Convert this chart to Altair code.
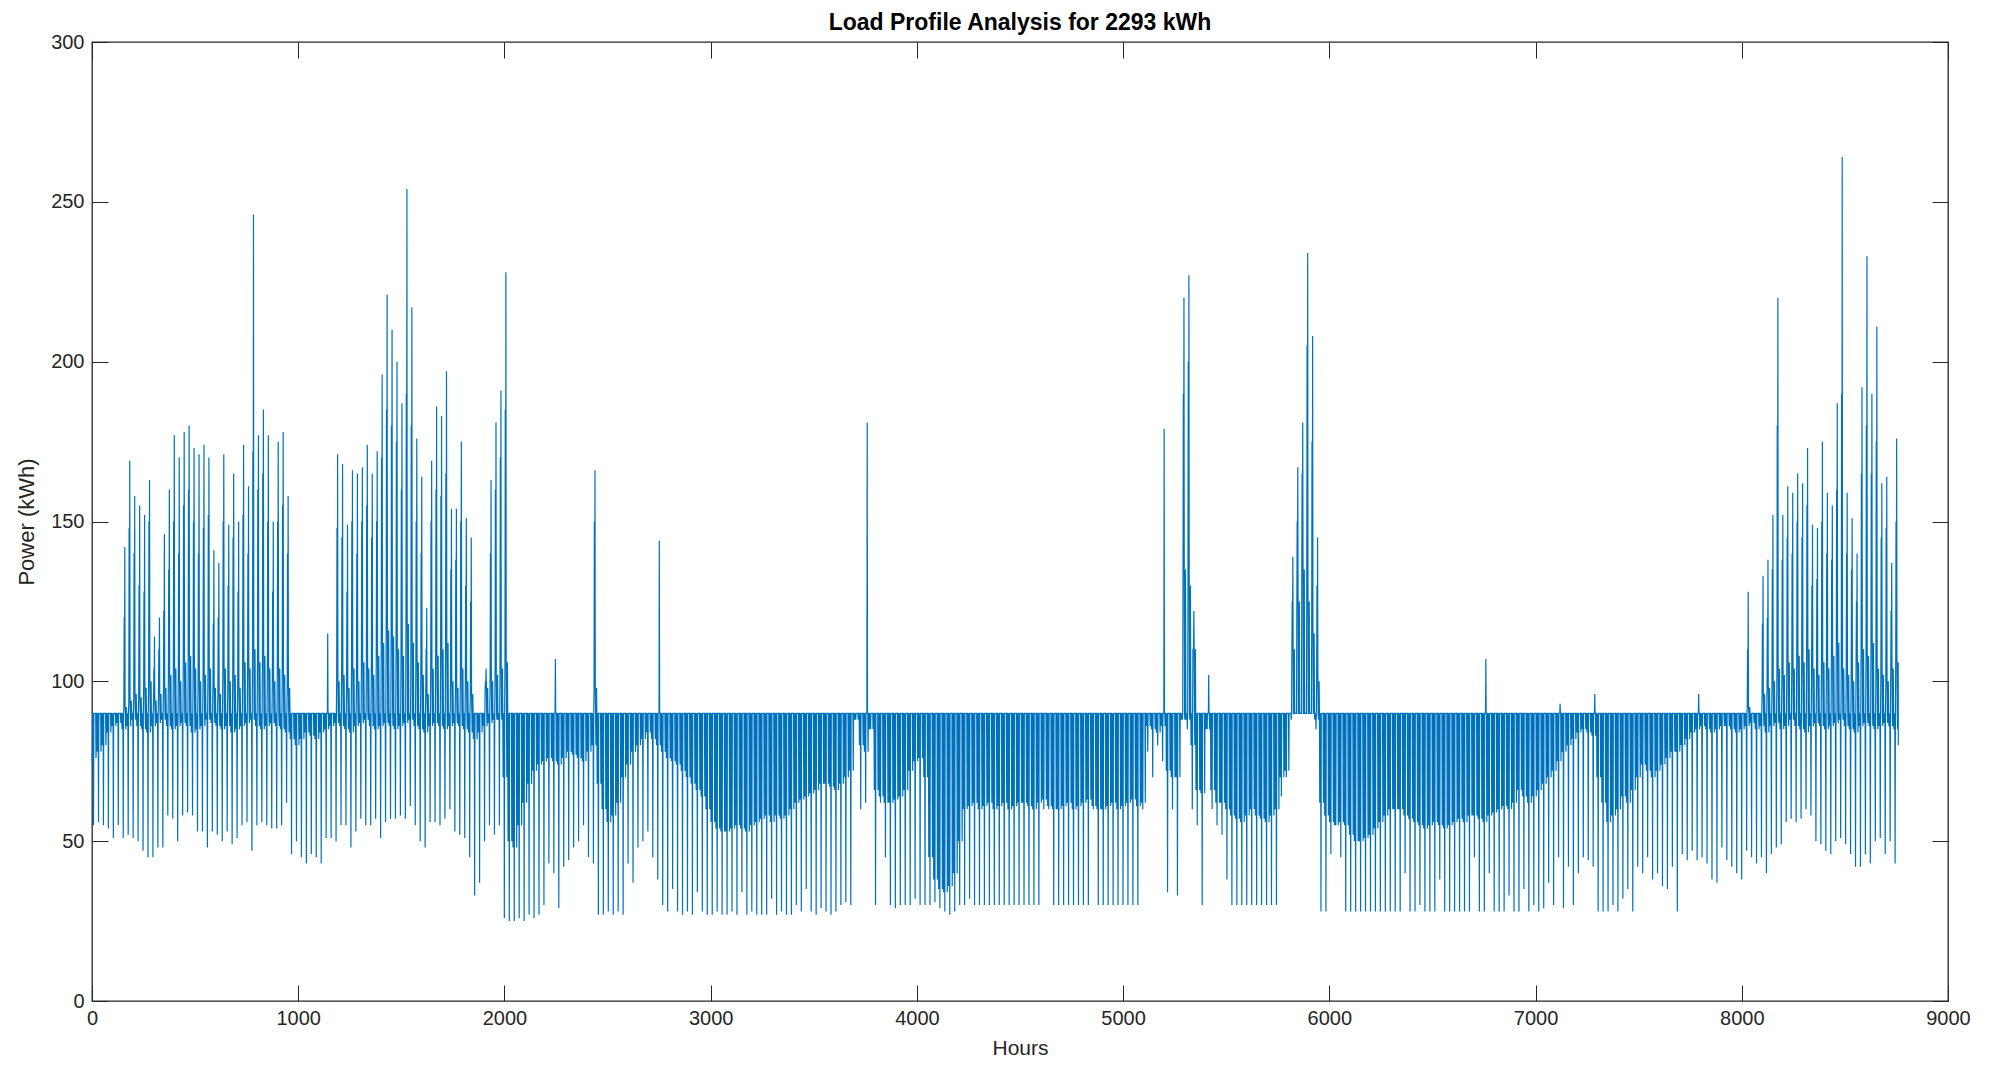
import altair as alt
import pandas as pd

# ---------------- values ----------------
TITLE = "Load Profile Analysis for 2293 kWh"
X_TITLE = "Hours"
Y_TITLE = "Power (kWh)"
X_TICKS = [0, 1000, 2000, 3000, 4000, 5000, 6000, 7000, 8000, 9000]
Y_TICKS = [0, 50, 100, 150, 200, 250, 300]

BASE_LEVEL = 90          # the level the profile keeps returning to
START_VALUE = 75
END_VALUE = 80

# day index -> daily peak (days not listed stay at the base level)
PEAK_DAYS = [6, 7, 8, 9, 10, 11, 12, 13, 14, 15, 16, 17, 18, 19, 20, 21, 22, 23, 24, 25,
             26, 27, 28, 29, 30, 31, 32, 33, 34, 35, 36, 37, 38, 39, 47, 49, 50, 51, 52, 53,
             54, 55, 56, 57, 58, 59, 60, 61, 62, 63, 64, 65, 66, 67, 68, 69, 70, 71, 72, 73,
             74, 75, 76, 79, 80, 81, 82, 83, 93, 101, 114, 156, 216, 220, 221, 222, 225,
             242, 243, 244, 245, 246, 247, 281, 296, 303, 324, 334, 337, 338, 339, 340, 341,
             342, 343, 344, 345, 346, 347, 348, 349, 350, 351, 352, 353, 354, 355, 356, 357,
             358, 359, 360, 361, 362, 363, 364]
PEAK_VALUES = [142, 169, 158, 155, 152, 163, 114, 120, 146, 160, 177, 170, 178, 180, 173, 171, 174, 170, 141, 137,
               171, 149, 165, 150, 174, 161, 246, 177, 185, 177, 150, 175, 178, 158, 115, 171, 168, 149, 166, 165,
               167, 174, 165, 172, 196, 221, 210, 200, 187, 254, 217, 176, 164, 123, 169, 186, 183, 197, 154, 154,
               175, 151, 145, 104, 163, 181, 191, 228, 107, 166, 144, 181, 179, 220, 227, 122, 102,
               139, 167, 181, 234, 208, 145, 107, 93, 96, 96, 128, 133, 138, 152, 220, 152,
               161, 159, 165, 162, 173, 149, 148, 175, 159, 155, 187, 264, 159, 151, 140, 192,
               233, 190, 211, 162, 164, 137, 176]
# second (lower) peak of those same days
PEAK2_VALUES = [120, 148, 140, 130, 128, 150, 104, 110, 122, 135, 150, 140, 155, 160, 150, 140, 148, 152, 118, 120,
                150, 130, 145, 128, 152, 140, 172, 160, 165, 150, 128, 150, 155, 140, 90, 148, 145, 128, 150, 140,
                150, 155, 145, 150, 170, 185, 180, 175, 160, 190, 180, 150, 140, 110, 150, 160, 158, 165, 135, 138,
                150, 130, 125, 100, 140, 160, 170, 185, 90, 150, 90, 90, 90, 190, 200, 110, 90,
                125, 150, 165, 205, 175, 130, 90, 90, 90, 90, 110, 118, 120, 135, 180, 138,
                145, 140, 150, 145, 155, 130, 132, 150, 140, 138, 160, 190, 140, 135, 125, 165,
                180, 165, 175, 145, 148, 122, 150]
# top of the dense block above the base level on those same days
PEAK_BAND = [92, 94, 96, 95, 98, 100, 94, 96, 98, 102, 104, 100, 106, 108, 104, 100, 102, 104, 98, 96,
             104, 100, 102, 98, 106, 104, 110, 106, 108, 104, 100, 104, 102, 98, 90, 100, 102, 98, 104, 100,
             106, 104, 102, 108, 112, 116, 114, 110, 108, 118, 112, 106, 102, 96, 104, 108, 110, 112, 100, 98,
             104, 100, 96, 98, 100, 102, 104, 106, 90, 98, 90, 90, 90, 135, 130, 110, 90,
             110, 125, 135, 125, 115, 100, 90, 90, 90, 90, 92, 96, 98, 100, 104, 102,
             106, 104, 108, 106, 110, 104, 102, 106, 104, 108, 112, 104, 102, 100, 106, 110,
             108, 112, 104, 102, 100, 104, 106]

# daily minimum, one per day (365 days)
DAILY_LOW = [
    55, 56, 55, 54, 51, 55, 51, 52, 51, 50, 47, 45, 45, 48, 48, 58, 57, 50, 58, 59,
    58, 53, 53, 48, 53, 52, 50, 53, 49, 51, 55, 56, 47, 55, 56, 55, 54, 54,
    55, 62, 46, 50, 45, 43, 46, 45, 43, 51, 51, 50, 55, 55, 48, 53, 57, 55, 55, 57,
    51, 56, 57, 57, 58, 57, 61, 55, 50, 48, 56, 56, 55, 57, 60, 53, 52, 51,
    45, 33, 37, 50, 55, 52, 55, 26, 25, 25, 26, 25, 27, 26, 27, 30, 43, 40, 29, 42,
    44, 48, 50, 55, 45, 43, 27, 27, 28, 27, 28, 27, 43, 37, 48, 50, 53,
    45, 38, 30, 28, 35, 28, 27, 28, 27, 34, 28, 27, 27, 28, 27, 27, 28, 27, 34, 27,
    28, 27, 27, 27, 32, 27, 28, 27, 27, 30, 28, 35, 28, 27, 29, 28, 27, 28,
    30, 31, 30, 88, 60, 62, 85, 30, 62, 45, 30, 29, 30, 30, 30, 32, 30, 30, 30, 31,
    29, 28, 27, 28, 30, 30, 32, 30, 30, 30, 30, 30, 30, 30, 30, 30, 30, 30,
    30, 30, 30, 60, 60, 30, 30, 30, 30, 30, 30, 30, 30, 60, 30, 30, 30, 30, 30, 30,
    30, 30, 30, 60, 78, 70, 80, 75, 34, 60, 33, 88, 85, 60, 55, 30, 85,
    60, 55, 52, 38, 30, 30, 30, 30, 30, 30, 30, 30, 30, 30, 64, 70, 88, 90, 90, 90,
    90, 85, 28, 28, 46, 55, 45, 28, 28, 28, 28, 28, 28, 28, 28, 28, 28, 28,
    28, 40, 28, 28, 30, 28, 28, 28, 38, 28, 28, 28, 28, 28, 28, 45, 28, 28, 40, 28,
    28, 28, 33, 28, 28, 35, 28, 30, 28, 29, 37, 30, 45, 29, 42, 30, 40,
    45, 44, 42, 28, 28, 28, 30, 28, 32, 35, 28, 42, 40, 45, 38, 40, 36, 35, 42, 28,
    46, 44, 47, 44, 45, 43, 38, 37, 48, 44, 42, 40, 38, 47, 45, 43, 45, 40,
    46, 48, 49, 56, 57, 56, 57, 60, 58, 50, 49, 47, 46, 50, 51, 49, 46, 42, 42, 46,
    43, 50, 51, 46, 50, 43,
]

# lower edge of the dense band below the base level, one per day (365 days)
DAILY_BAND = [
    # days 0-82 (winter)
    76, 78, 80, 84, 86, 87, 85, 86, 88, 86, 85, 84, 86, 87, 88, 86, 85, 86, 87, 86,
    84, 85, 86, 88, 87, 86, 85, 86, 84, 85, 86, 87, 88, 86, 85, 86, 87, 86, 85, 84,
    82, 80, 82, 84, 83, 82, 84, 85, 86, 87, 86, 85, 84, 86, 87, 88, 86, 85, 86, 87,
    86, 85, 86, 87, 88, 86, 85, 84, 86, 87, 86, 85, 86, 87, 86, 85, 84, 82, 84, 86,
    87, 88, 88,
    # days 83-112
    70, 50, 48, 55, 62, 68, 72, 74, 75, 76, 75, 74, 76, 78, 77, 76, 75, 78, 80,
    68, 60, 56, 58, 62, 70, 74, 78, 80, 82, 84,
    # days 113-154
    82, 80, 78, 76, 75, 74, 72, 70, 68, 66, 64, 60,
    56, 54, 53, 53, 54, 55, 54, 53, 55, 56, 57, 58, 56,
    58, 57, 58, 60, 62, 63, 64, 65,
    66, 68, 68, 67, 66, 68, 70, 72, 75,
    # days 155-187
    80, 78, 70, 66, 64, 62, 62, 63, 64, 66,
    72, 75, 76, 70,
    45, 38, 35, 34, 36, 40, 50,
    60, 61, 62, 60, 61, 62, 60, 61, 62, 60, 61, 62,
    # days 188-239
    62, 61, 60, 62, 63, 61, 60, 60, 61, 62, 60, 61, 62, 63, 61, 60, 60, 61, 62, 60,
    61, 62, 63, 61, 62,
    86, 85, 84, 86, 72, 70, 70, 88, 88, 80,
    66, 65, 64, 66, 62, 62, 60,
    58, 57, 56, 58, 60, 58, 57, 56, 58, 60,
    # days 240-303
    70, 72, 90, 90, 90, 90, 90, 88,
    62, 58, 56, 55, 56, 55,
    52, 50, 50, 51, 52, 54, 56,
    58, 60, 60, 60, 58, 57,
    56, 55, 54, 55, 56, 55, 54, 55, 56,
    57, 56, 58, 58, 57, 56, 58, 59,
    60, 61, 60, 62,
    66, 64, 62, 64, 66, 68, 70, 72,
    75, 78, 80, 82, 84, 85, 84, 83,
    # days 304-333
    70, 62, 56, 58, 60, 64, 62, 66, 70,
    74, 72, 70, 72, 74, 76, 78, 78,
    80, 82, 84, 85, 86, 85, 84, 85, 86, 86, 85, 84, 85,
    # days 334-364 (winter)
    86, 87, 85, 86, 84, 86, 87, 85, 86, 88, 86, 85, 84, 86, 87, 86, 85, 86, 87, 88,
    86, 85, 84, 86, 87, 86, 85, 86, 87, 86, 85,
]
assert len(DAILY_LOW) == 365 and len(DAILY_BAND) == 365
assert len(PEAK_DAYS) == len(PEAK_VALUES) == len(PEAK2_VALUES) == len(PEAK_BAND)

# ---------------- build the hourly table ----------------
daily_peak = [BASE_LEVEL] * 365
daily_peak2 = [BASE_LEVEL] * 365
daily_upper = [BASE_LEVEL] * 365
for d, v, v2, u in zip(PEAK_DAYS, PEAK_VALUES, PEAK2_VALUES, PEAK_BAND):
    daily_peak[d] = v
    daily_upper[d] = min(u, v)
    daily_peak2[d] = max(v2, daily_upper[d])

hours, power = [], []
b = BASE_LEVEL
for d in range(365):
    low = DAILY_LOW[d]
    band = max(DAILY_BAND[d], low)
    up = daily_upper[d]
    day_seq = [b, band, b, band, b, low, b, up, daily_peak2[d], up, daily_peak[d], up,
               b, band, b, up]
    for i, v in enumerate(day_seq):
        hours.append(24 * d + 1.5 * i)
        power.append(v)
power[0] = START_VALUE
hours.append(8759)
power.append(END_VALUE)

df = pd.DataFrame({"Hours": hours, "Power": power})
anchor = pd.DataFrame({"Hours": [0], "Power": [0]})

# ---------------- chart ----------------
W, H = 1856, 959
FONT = "Liberation Sans"
AX = "#262626"

xs = alt.Scale(domain=[0, 9000], nice=False, zero=False)
ys = alt.Scale(domain=[0, 300], nice=False, zero=False)

x_main = alt.Axis(
    title=X_TITLE, values=X_TICKS, format="d", grid=False, domain=False, ticks=False, tickSize=0,
    labelFont=FONT, labelFontSize=20, labelColor=AX, labelPadding=7, labelFlush=False,
    labelOverlap=False, titleFont=FONT, titleFontSize=21, titleFontWeight="normal",
    titleColor=AX, titleX=W / 2, titleY=47, titleBaseline="middle", titleAlign="center",
)
y_main = alt.Axis(
    title=Y_TITLE, values=Y_TICKS, format="d", grid=False, domain=False, ticks=False, tickSize=0,
    labelFont=FONT, labelFontSize=20, labelColor=AX, labelPadding=8, labelFlush=False,
    labelOverlap=False, titleFont=FONT, titleFontSize=22, titleFontWeight="normal",
    titleColor=AX, titleAngle=270, titleX=-66, titleY=H / 2, titleBaseline="middle",
    titleAlign="center",
)


def tick_axis(values, orient, offset):
    return alt.Axis(values=values, orient=orient, offset=offset, labels=False, title=None,
                    grid=False, domain=False, ticks=True, tickSize=16, tickColor=AX,
                    tickWidth=1)


line = alt.Chart(df).mark_line(color="#0072BD", strokeWidth=1.2).encode(
    x=alt.X("Hours:Q", scale=xs, axis=x_main),
    y=alt.Y("Power:Q", scale=ys, axis=y_main),
)

ticks_a = alt.Chart(anchor).mark_point(opacity=0).encode(
    x=alt.X("Hours:Q", scale=xs, axis=tick_axis(X_TICKS, "top", -H)),
    y=alt.Y("Power:Q", scale=ys, axis=tick_axis(Y_TICKS, "right", -W)),
)
ticks_b = alt.Chart(anchor).mark_point(opacity=0).encode(
    x=alt.X("Hours:Q", scale=xs, axis=tick_axis(X_TICKS, "bottom", -H)),
    y=alt.Y("Power:Q", scale=ys, axis=tick_axis(Y_TICKS, "left", -W)),
)

chart = (
    alt.layer(line, ticks_a, ticks_b)
    .resolve_axis(x="independent", y="independent")
    .properties(
        width=W,
        height=H,
        title=alt.TitleParams(TITLE, font=FONT, fontSize=23, fontWeight="bold", color="#000000",
                              anchor="middle", frame="group", offset=9, dy=12),
        autosize=alt.AutoSizeParams(type="none"),
        padding={"left": 84, "top": 34, "right": 24, "bottom": 60},
        background="white",
    )
    .configure_view(stroke=AX, strokeWidth=1.3)
)

chart.save("out.html", embed_options={"renderer": "svg", "actions": False})
